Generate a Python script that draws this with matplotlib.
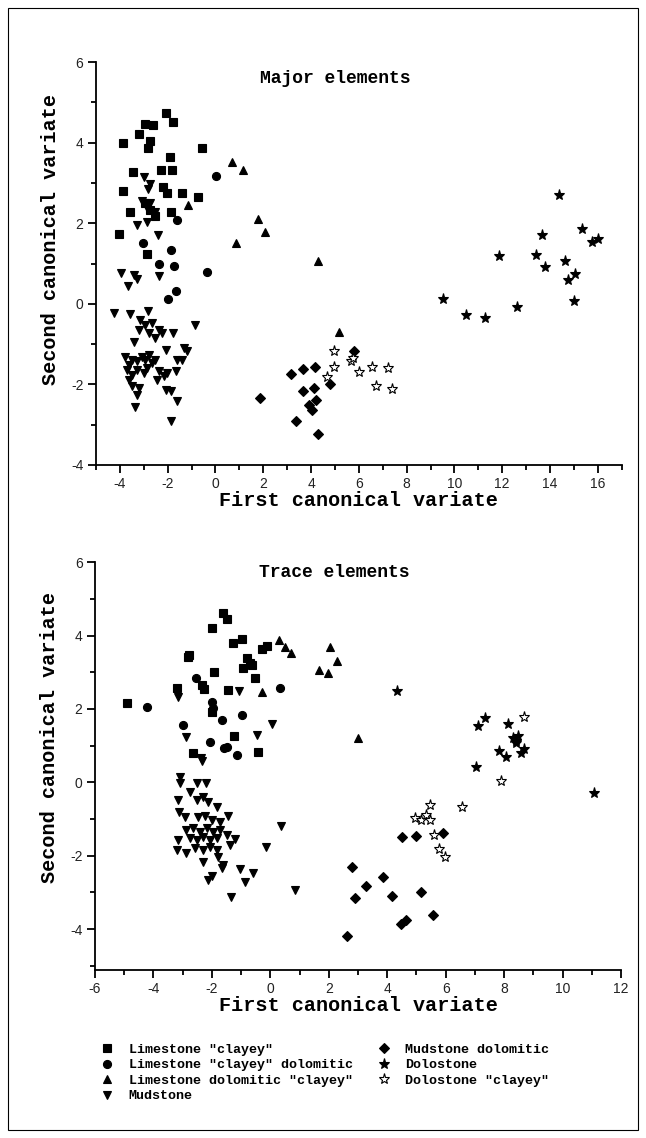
import matplotlib
matplotlib.use('Agg')
import matplotlib.pyplot as plt
from matplotlib.ticker import MultipleLocator
from matplotlib.patches import Rectangle

plt.rcParams['axes.unicode_minus'] = False

# ---- data: major elements (top panel) ----
maj_lsc_x = [-2.06, -1.78, -2.96, -2.62, -3.18, -3.88, -2.75, -2.84, -0.58, -1.91, -2.30, -1.81, -3.45,
             -3.88, -2.20, -2.02, -1.42, -0.72, -3.56, -1.88, -4.02, -2.86, -2.93, -2.72, -2.51]
maj_lsc_y = [4.73, 4.52, 4.46, 4.44, 4.21, 3.99, 4.03, 3.86, 3.86, 3.64, 3.33, 3.33, 3.26,
             2.80, 2.91, 2.75, 2.75, 2.65, 2.27, 2.29, 1.73, 1.24, 2.50, 2.33, 2.17]
maj_lscd_x = [0.03, -1.63, -3.04, -1.88, -2.37, -1.74, -0.34, -1.67, -1.98]
maj_lscd_y = [3.16, 2.08, 1.51, 1.34, 0.99, 0.94, 0.78, 0.33, 0.12]
maj_ldc_x = [0.70, 1.17, -1.15, 1.79, 2.06, 0.85, 5.18, 4.31]
maj_ldc_y = [3.51, 3.31, 2.44, 2.11, 1.79, 1.51, -0.69, 1.05]
maj_mud_x = [-3.00, -2.72, -2.82, -3.07, -2.72, -2.86, -2.51, -2.58, -3.28, -2.86, -2.41, -3.97, -3.67,
             -3.42, -3.28, -2.37,
             -4.23, -3.56, -2.83, -3.14, -2.93, -2.65, -3.21, -2.79, -2.37, -2.51, -2.23, -1.77, -0.87,
             -3.42, -2.09, -1.32, -1.18, -1.60, -1.39,
             -3.77, -3.63, -3.49, -3.28, -3.07, -2.93, -2.79, -2.65, -2.51, -3.70, -3.49, -3.28, -3.00,
             -2.86, -2.37, -2.16, -2.02, -1.67,
             -3.63, -3.49, -3.21, -3.28, -2.44, -2.09, -1.88, -1.60, -3.35, -1.88]
maj_mud_y = [3.14, 2.97, 2.86, 2.54, 2.50, 2.37, 2.29, 2.17, 1.96, 2.04, 1.71, 0.76, 0.45,
             0.72, 0.61, 0.68,
             -0.22, -0.26, -0.19, -0.40, -0.52, -0.48, -0.65, -0.73, -0.65, -0.85, -0.73, -0.73, -0.52,
             -0.94, -1.14, -1.10, -1.18, -1.39, -1.39,
             -1.31, -1.51, -1.39, -1.43, -1.31, -1.39, -1.27, -1.47, -1.39, -1.64, -1.76, -1.64, -1.72,
             -1.60, -1.68, -1.80, -1.72, -1.68,
             -1.89, -2.05, -2.09, -2.26, -1.89, -2.13, -2.16, -2.42, -2.55, -2.92]
maj_mdol_x = [1.85, 3.18, 3.67, 4.17, 5.81, 4.79, 3.67, 4.13, 4.20, 3.92, 4.06, 3.39, 4.27]
maj_mdol_y = [-2.34, -1.74, -1.61, -1.56, -1.16, -1.99, -2.16, -2.09, -2.38, -2.51, -2.63, -2.92, -3.23]
maj_dol_x = [14.37, 13.66, 15.34, 15.76, 16.01, 11.86, 13.43, 13.77, 14.61, 15.03, 14.75, 9.54, 10.49,
             11.26, 12.63, 14.99]
maj_dol_y = [2.70, 1.71, 1.85, 1.53, 1.61, 1.19, 1.22, 0.91, 1.07, 0.74, 0.58, 0.12, -0.27,
             -0.36, -0.08, 0.06]
maj_dolc_x = [4.97, 4.94, 4.66, 5.67, 5.74, 6.02, 6.57, 7.20, 6.72, 7.37]
maj_dolc_y = [-1.17, -1.57, -1.82, -1.41, -1.35, -1.70, -1.57, -1.60, -2.05, -2.12]

# ---- data: trace elements (bottom panel) ----
tr_lsc_x = [-4.92, -1.63, -1.48, -2.01, -1.29, -0.98, -2.79, -2.81, -1.93, -0.81, -0.70, -0.93,
            -0.64, -0.51, -0.27, -0.11, -2.34, -2.27, -3.19, -1.44, -1.98, -1.24, -0.43, -2.64]
tr_lsc_y = [2.17, 4.62, 4.44, 4.20, 3.81, 3.90, 3.47, 3.41, 3.02, 3.38, 3.24, 3.11,
            3.20, 2.84, 3.63, 3.72, 2.65, 2.54, 2.56, 2.52, 1.93, 1.27, 0.84, 0.79]
tr_lscd_x = [-4.23, -2.55, 0.32, -1.98, -1.96, -2.98, -1.67, -0.96, -2.05, -1.59, -1.50, -1.15]
tr_lscd_y = [2.06, 2.84, 2.56, 2.20, 2.02, 1.56, 1.70, 1.84, 1.11, 0.93, 0.97, 0.75]
tr_ldc_x = [0.29, 0.50, 0.72, -0.27, 2.03, 2.28, 1.66, 1.96, 3.00]
tr_ldc_y = [3.88, 3.68, 3.52, 2.47, 3.70, 3.32, 3.06, 2.99, 1.22]
tr_mud_x = [-3.15, -2.87, -1.08, 0.04, -0.45, -2.38, -2.35,
            -3.09, -3.09, -2.75, -2.52, -2.21, -3.17, -2.52, -2.30, -2.13, -1.84, -3.12, -2.92,
            -2.47, -2.24, -2.01, -1.73, -1.44, 0.36,
            -2.87, -2.64, -2.41, -2.18, -1.96, -1.73, -1.50, -1.21,
            -3.15, -2.75, -2.52, -2.30, -2.07, -1.84, -1.38,
            -3.21, -2.87, -2.58, -2.30, -2.07, -1.84, -0.16,
            -2.30, -1.78, -1.61, -1.67, -1.04, -0.59, -2.13, -1.98, -0.87, -1.35, 0.84]
tr_mud_y = [2.34, 1.25, 2.50, 1.58, 1.29, 0.66, 0.59,
            0.14, -0.02, -0.25, -0.02, -0.02, -0.48, -0.48, -0.41, -0.53, -0.66, -0.80, -0.95,
            -0.95, -0.92, -1.02, -1.07, -0.92, -1.19,
            -1.30, -1.25, -1.34, -1.25, -1.34, -1.30, -1.43, -1.55,
            -1.57, -1.52, -1.57, -1.48, -1.57, -1.52, -1.71,
            -1.84, -1.92, -1.80, -1.84, -1.75, -1.84, -1.77,
            -2.16, -2.02, -2.25, -2.34, -2.37, -2.48, -2.66, -2.55, -2.71, -3.13, -2.93]
tr_mdol_x = [4.49, 4.97, 5.91, 2.78, 3.86, 3.29, 2.89, 4.18, 5.14, 5.55, 4.46, 4.63, 2.64]
tr_mdol_y = [-1.50, -1.46, -1.39, -2.30, -2.59, -2.82, -3.16, -3.10, -2.98, -3.61, -3.86, -3.75, -4.19]
tr_dol_x = [4.35, 7.10, 7.35, 8.15, 8.30, 8.41, 8.47, 8.39, 7.82, 8.08, 8.59, 8.67, 7.05, 11.09]
tr_dol_y = [2.49, 1.54, 1.76, 1.59, 1.20, 1.14, 1.26, 1.07, 0.86, 0.68, 0.79, 0.90, 0.43, -0.29]
tr_dolc_x = [8.67, 7.90, 6.57, 5.48, 4.94, 5.17, 5.34, 5.48, 5.60, 5.77, 5.97]
tr_dolc_y = [1.79, 0.05, -0.66, -0.62, -0.98, -1.02, -0.89, -1.02, -1.43, -1.82, -2.04]

labels = ['Limestone "clayey"', 'Limestone "clayey" dolomitic', 'Limestone dolomitic "clayey"',
          'Mudstone', 'Mudstone dolomitic', 'Dolostone', 'Dolostone "clayey"']

styles = [dict(marker='s', ms=5.6, mfc='black'),
          dict(marker='o', ms=5.8, mfc='black'),
          dict(marker='^', ms=6.4, mfc='black'),
          dict(marker='v', ms=6.4, mfc='black'),
          dict(marker='D', ms=5.0, mfc='black'),
          dict(marker='*', ms=8.0, mfc='black'),
          dict(marker='*', ms=8.0, mfc='white')]

mono = {'family': 'Liberation Mono', 'weight': 'bold'}

fig = plt.figure(figsize=(6.46, 11.38), dpi=100)

# thin frame round the whole picture
fig.patches.append(Rectangle((8 / 646, 8 / 1138), 630 / 646, 1122 / 1138, transform=fig.transFigure,
                             fill=False, edgecolor='black', linewidth=0.8))

ax1 = fig.add_axes([0.1486, 0.5914, 0.8138, 0.3541])
ax2 = fig.add_axes([0.1471, 0.1480, 0.8142, 0.3580])

top = [(maj_lsc_x, maj_lsc_y), (maj_lscd_x, maj_lscd_y), (maj_ldc_x, maj_ldc_y), (maj_mud_x, maj_mud_y),
       (maj_mdol_x, maj_mdol_y), (maj_dol_x, maj_dol_y), (maj_dolc_x, maj_dolc_y)]
bottom = [(tr_lsc_x, tr_lsc_y), (tr_lscd_x, tr_lscd_y), (tr_ldc_x, tr_ldc_y), (tr_mud_x, tr_mud_y),
          (tr_mdol_x, tr_mdol_y), (tr_dol_x, tr_dol_y), (tr_dolc_x, tr_dolc_y)]

handles = []
for (x, y), st, lab in zip(top, styles, labels):
    h, = ax1.plot(x, y, ls='none', mec='black', mew=0.8, label=lab, **st)
    handles.append(h)
for (x, y), st in zip(bottom, styles):
    ax2.plot(x, y, ls='none', mec='black', mew=0.8, **st)

ax1.set_xlim(-5, 17)
ax1.set_ylim(-4, 6)
ax2.set_xlim(-6, 12)
ax2.set_ylim(-5.1, 6)

for ax in (ax1, ax2):
    ax.spines['top'].set_visible(False)
    ax.spines['right'].set_visible(False)
    ax.spines['left'].set_linewidth(1.3)
    ax.spines['bottom'].set_linewidth(1.3)
    ax.xaxis.set_major_locator(MultipleLocator(2))
    ax.xaxis.set_minor_locator(MultipleLocator(1))
    ax.yaxis.set_major_locator(MultipleLocator(2))
    ax.yaxis.set_minor_locator(MultipleLocator(1))
    ax.tick_params(which='major', direction='out', length=6, width=1.3, labelsize=10, pad=3,
                   labelcolor='#222222')
    ax.tick_params(which='minor', direction='out', length=3.5, width=1.3)
    for t in ax.get_xticklabels() + ax.get_yticklabels():
        t.set_fontfamily('Liberation Sans')
    ax.set_xlabel('First canonical variate', fontdict=mono, fontsize=14.5, labelpad=0)
    ax.set_ylabel('Second canonical variate', fontdict=mono, fontsize=14.5)

ax1.yaxis.set_label_coords(-0.068, 0.56)
ax2.yaxis.set_label_coords(-0.068, 0.57)

ax1.text(0.455, 0.96, 'Major elements', transform=ax1.transAxes, ha='center', va='center',
         fontdict=mono, fontsize=13)
ax2.text(0.455, 0.975, 'Trace elements', transform=ax2.transAxes, ha='center', va='center',
         fontdict=mono, fontsize=13)

fig.legend(handles, labels, loc='upper left', bbox_to_anchor=(0.156, 0.083), ncol=2, frameon=False,
           prop={'family': 'Liberation Mono', 'weight': 'bold', 'size': 9.6},
           labelspacing=0.24, handlelength=1.0, handletextpad=1.1, columnspacing=1.85,
           borderaxespad=0, borderpad=0)

fig.savefig('out.png', dpi=100)
